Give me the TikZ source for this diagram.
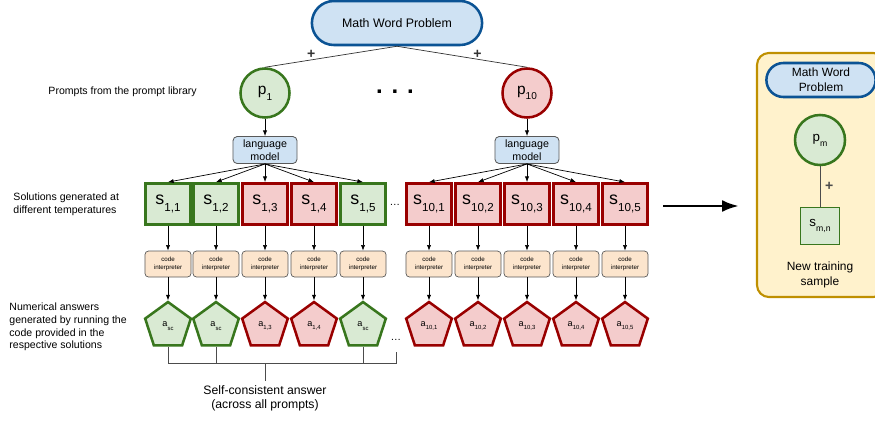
\documentclass[tikz,border=0pt]{standalone}
\usepackage{fontspec}
\setmainfont{Liberation Sans}
\usepackage{xcolor}
\usepackage{tikz}
\usetikzlibrary{shapes,arrows.meta,positioning}

\definecolor{bluefill}{HTML}{CFE2F3}
\definecolor{blueline}{HTML}{0B5394}
\definecolor{greenfill}{HTML}{D9EAD3}
\definecolor{greenline}{HTML}{38761D}
\definecolor{redfill}{HTML}{F4CCCC}
\definecolor{redline}{HTML}{990000}
\definecolor{interpfill}{HTML}{FCE5CD}
\definecolor{panelfill}{HTML}{FFF2CC}
\definecolor{panelline}{HTML}{BF9000}

% letter with a lowered, smaller index
\newcommand{\subx}[2]{#1\raisebox{-0.7ex}{\scalebox{0.65}{#2}}}

\begin{document}
\begin{tikzpicture}[x=0.025cm, y=-0.025cm, node distance=1.5cm, >={Latex[length=4pt,width=3pt]}, font=\fontsize{7.5}{9.4}\selectfont]
    % Styles
    \tikzstyle{problem} = [rounded rectangle, draw=blueline, line width=1.8pt, fill=bluefill, align=center, inner sep=1pt, font=\fontsize{8.8}{10.5}\selectfont]
    \tikzstyle{prompt} = [circle, line width=1.8pt, minimum size=1.225cm, inner sep=0pt, font=\fontsize{11}{11}\selectfont]
    \tikzstyle{good} = [draw=greenline, fill=greenfill]
    \tikzstyle{bad} = [draw=redline, fill=redfill]
    \tikzstyle{lmbox} = [rectangle, rounded corners=3pt, draw=black!65, fill=bluefill, align=center, minimum width=1.6cm, minimum height=0.675cm, inner sep=1pt, line width=0.6pt, font=\fontsize{7.6}{9}\selectfont]
    \tikzstyle{sol} = [rectangle, line width=2pt, minimum width=1.125cm, minimum height=1.025cm, inner sep=0pt, font=\fontsize{12.7}{12.7}\selectfont]
    \tikzstyle{interp} = [rectangle, rounded corners=2.5pt, draw=black!65, fill=interpfill, align=center, minimum width=1.15cm, minimum height=0.65cm, inner sep=1pt, line width=0.5pt, font=\fontsize{4.4}{5.2}\selectfont]
    \tikzstyle{answer} = [regular polygon, regular polygon sides=5, minimum size=1.2cm, inner sep=0pt, line width=1.8pt, font=\fontsize{6.5}{6.5}\selectfont]
    \tikzstyle{panel} = [rectangle, rounded corners=0.3cm, draw=panelline, fill=panelfill, line width=1.5pt]
    \tikzstyle{line} = [draw, ->, line width=0.5pt]
    \tikzstyle{bracket} = [draw, gray!60!black, line width=0.6pt]
    \tikzstyle{plus} = [font=\fontsize{10}{10}\selectfont\bfseries]

    \useasboundingbox (0,0) rectangle (875,421);

    % Nodes
    \node [problem, minimum width=4.325cm, minimum height=1.1cm] (mwp) at (397,23) {Math Word Problem};
    \node [prompt, good] (p1) at (265,93) {\subx{p}{1}};
    \node [prompt, bad] (p10) at (527,93) {\subx{p}{10}};
    \node [font=\fontsize{17}{17}\selectfont\bfseries] (dots) at (395,92) {. . .};
    \node [lmbox, node distance=1.425cm, below of=p1] (lm1) {language\\model};
    \node [lmbox, node distance=1.425cm, below of=p10] (lm10) {language\\model};
    \node (sdots) at (395,205) {\dots};
    \node (adots) at (396,340) {\dots};

    \node [anchor=west] (lblprompt) at (43.5,92) {Prompts from the prompt library};
    \node [anchor=west, align=left] (lblsol) at (8.5,204) {Solutions generated at\\different temperatures};
    \node [anchor=west, align=left, font=\fontsize{7.5}{9}\selectfont] (lblans) at (4.5,327) {Numerical answers\\generated by running the\\code provided in the\\respective solutions};

    % Rows
    \foreach \n/\xx/\cl/\ix/\ans in {1/168/good/{1,1}/sc, 2/216/good/{1,2}/sc, 3/265/bad/{1,3}/{1,3}, 4/314/bad/{1,4}/{1,4}, 5/363/good/{1,5}/sc, 6/429/bad/{10,1}/{10,1}, 7/478/bad/{10,2}/{10,2}, 8/527/bad/{10,3}/{10,3}, 9/576/bad/{10,4}/{10,4}, 10/625/bad/{10,5}/{10,5}} {
        \node [sol, \cl] (s\n) at (\xx,204) {\subx{s}{\ix}};
        \node [interp, below of=s\n] (ci\n) {code\\interpreter};
        \node [answer, \cl, node distance=1.55cm, below of=ci\n] (a\n) {\subx{a}{\ans}};
        \path [line] (s\n) -- (ci\n);
        \path [line] (ci\n) -- (a\n.corner 1);
    }

    % Paths
    \path [draw, black!80, line width=0.5pt] (mwp.south) -- node [plus, pos=0.65, above, inner sep=0.5pt] {+} (p1.north);
    \path [draw, black!80, line width=0.5pt] (mwp.south) -- node [plus, pos=0.62, above, inner sep=0.5pt] {+} (p10.north);
    \path [line] (p1) -- (lm1);
    \path [line] (p10) -- (lm10);
    \foreach \n in {1,...,5} \path [line] (lm1.south) -- (s\n.north);
    \foreach \n in {6,...,10} \path [line] (lm10.south) -- (s\n.north);

    % Self-consistent answer
    \coordinate (join) at (265,363);
    \node [anchor=north, align=center, font=\fontsize{8.7}{10}\selectfont] (sc) at (265,381) {Self-consistent answer\\(across all prompts)};
    \path [bracket] (a1.south) |- (adots.south |- join) -- ([yshift=-8.5pt]adots.center);
    \path [bracket] (a2.south) -- (a2.south |- join);
    \path [bracket] (a5.south) -- (a5.south |- join);
    \path [bracket] (join) -- (sc);

    % New training sample
    \node [panel, minimum width=3.2cm, minimum height=6.1cm] (panel) at (821,175) {};
    \coordinate (arrstart) at (663,206);
    \path [draw, -{Latex[length=12pt,width=8.5pt]}, line width=2pt, shorten >=0.425cm] (arrstart) -- (arrstart -| panel.west);
    \node [problem, minimum width=2.8cm, minimum height=0.85cm, font=\fontsize{8.5}{10.5}\selectfont] (mwp2) at (821,80) {Math Word\\Problem};
    \node [prompt, good, minimum size=1.25cm, font=\fontsize{9.5}{9.5}\selectfont] (pm) at (820,140) {\subx{p}{m}};
    \node [sol, good, minimum width=0.975cm, minimum height=0.925cm, line width=1.2pt, font=\fontsize{9.5}{9.5}\selectfont] (smn) at (820,226) {\subx{s}{m,n}};
    \path [draw, gray!60!black, line width=0.6pt] (pm) -- node [plus, right] {+} (smn);
    \node [align=center, font=\fontsize{8.5}{10.5}\selectfont] (newsample) at (820,275) {New training\\sample};
\end{tikzpicture}
\end{document}
